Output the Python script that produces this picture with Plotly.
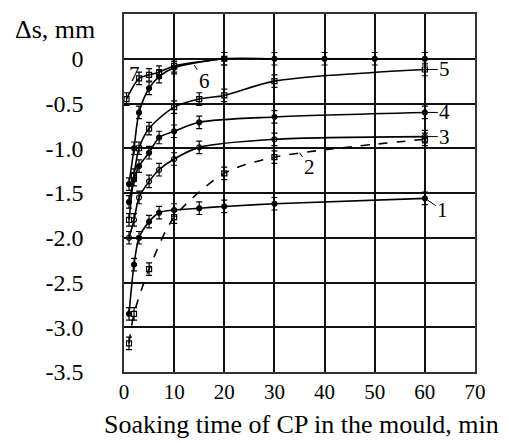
import plotly.graph_objects as go

# Data (time in min, displacement in mm)
c1_x = [1, 2, 3, 5, 7, 10, 15, 20, 30, 60]
c1_y = [-2.85, -2.3, -2.0, -1.82, -1.72, -1.69, -1.67, -1.65, -1.62, -1.56]

c2_x = [1, 2, 5, 10, 20, 30, 60]
c2_y = [-3.18, -2.85, -2.35, -1.77, -1.28, -1.1, -0.9]

c3_x = [1, 2, 3, 5, 7, 10, 15, 30, 60]
c3_y = [-2.0, -1.8, -1.55, -1.37, -1.24, -1.12, -0.99, -0.9, -0.87]

c4_x = [1, 2, 3, 5, 7, 10, 15, 30, 60]
c4_y = [-1.6, -1.35, -1.2, -1.05, -0.88, -0.81, -0.71, -0.65, -0.6]

c5_x = [1, 2, 3, 5, 10, 15, 20, 30, 60]
c5_y = [-1.8, -1.3, -1.0, -0.78, -0.54, -0.45, -0.41, -0.25, -0.12]

c6_x = [1, 2, 3, 5, 7, 10, 20, 30, 40, 50, 60]
c6_y = [-1.4, -1.0, -0.6, -0.33, -0.2, -0.1, 0, 0, 0, 0, 0]

c7_x = [0.5, 3, 5, 7, 10, 20]
c7_y = [-0.45, -0.22, -0.18, -0.15, -0.08, 0]

err = 0.07

y_ticks = [-3.5, -3.0, -2.5, -2.0, -1.5, -1.0, -0.5, 0]
y_text = ["-3.5", "-3.0", "-2.5", "-2.0", "-1.5", "-1.0", "-0.5", "0"]
x_ticks = [0, 10, 20, 30, 40, 50, 60, 70]

FONT = "Liberation Serif, Times New Roman, serif"

series = [
    (c1_x, c1_y, "circle", "solid"),
    (c2_x, c2_y, "square-open", "dash"),
    (c3_x, c3_y, "circle-open", "solid"),
    (c4_x, c4_y, "circle", "solid"),
    (c5_x, c5_y, "square-open", "solid"),
    (c6_x, c6_y, "circle", "solid"),
    (c7_x, c7_y, "square-open", "solid"),
]

fig = go.Figure()
for xs, ys, sym, dash in series:
    fig.add_trace(go.Scatter(
        x=xs, y=ys,
        mode="lines+markers",
        line=dict(color="black", width=1.6, shape="spline", smoothing=0.8, dash=dash),
        marker=dict(symbol=sym, size=5, color="black", line=dict(color="black", width=1.2)),
        error_y=dict(type="constant", value=err, color="black", thickness=1.2, width=3),
        showlegend=False,
    ))

# curve labels
labels = [
    ("1", 60, -1.56, 18, 12),
    ("2", 35, -1.05, 10, 14),
    ("3", 60, -0.87, 20, 0),
    ("4", 60, -0.6, 20, 0),
    ("5", 60, -0.12, 20, 0),
    ("6", 14, -0.07, 10, 16),
]
for txt, lx, ly, ax, ay in labels:
    fig.add_annotation(x=lx, y=ly, text=txt, showarrow=True, arrowhead=0,
                       arrowwidth=1, arrowcolor="black", ax=ax, ay=ay,
                       font=dict(family=FONT, size=21, color="black"))
fig.add_annotation(x=2.1, y=-0.17, text="7", showarrow=False,
                   font=dict(family=FONT, size=21, color="black"))

# axis titles
fig.add_annotation(xref="paper", yref="paper", x=-0.197, y=0.956, text="Δs, mm",
                   showarrow=False, xanchor="center", yanchor="middle",
                   font=dict(family=FONT, size=26, color="black"))
fig.add_annotation(xref="paper", yref="paper", x=0.507, y=-0.147,
                   text="Soaking time of CP in the mould, min",
                   showarrow=False, xanchor="center", yanchor="middle",
                   font=dict(family=FONT, size=26, color="black"))

fig.update_xaxes(range=[0, 70], tickvals=x_ticks, showgrid=True, gridcolor="#111",
                 gridwidth=1.6, showline=True, linecolor="#333", linewidth=1.5,
                 mirror=True, zeroline=False, ticks="",
                 tickfont=dict(family=FONT, size=21, color="black"))
fig.update_yaxes(range=[-3.5, 0.5], tickvals=y_ticks, ticktext=y_text,
                 showgrid=True, gridcolor="#111", gridwidth=1.6,
                 showline=True, linecolor="#333", linewidth=1.5, mirror=True,
                 zeroline=False, ticks="", ticklabelstandoff=34,
                 tickfont=dict(family=FONT, size=24, color="black"))

# the page body adds an 8 px offset, so the figure is sized to fit the window
fig.update_layout(
    width=501, height=435,
    margin=dict(l=116, r=34, t=4, b=71),
    paper_bgcolor="white", plot_bgcolor="white",
)

fig.write_html("out.html")
